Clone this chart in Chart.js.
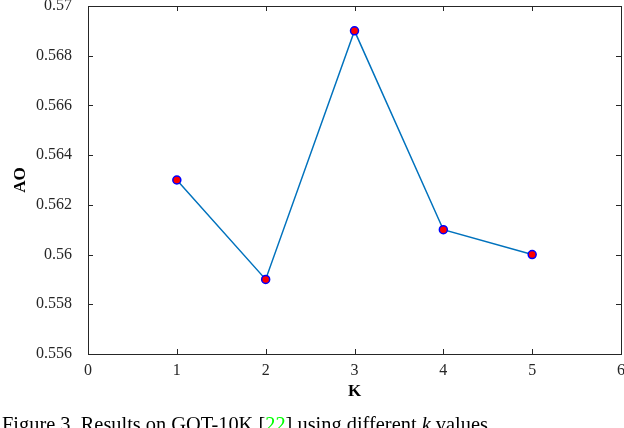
<!DOCTYPE html>
<html><head><meta charset="utf-8">
<script src="https://cdn.jsdelivr.net/npm/chart.js@4"></script>
<style>html,body{margin:0;padding:0;background:#fff;}#wrap{position:relative;width:624px;height:428px;overflow:hidden;}</style>
</head><body><div id="wrap"><canvas id="c" width="624" height="428"></canvas></div>
<script>
const kValues = [1, 2, 3, 4, 5];
const aoValues = [0.563, 0.559, 0.569, 0.561, 0.560];
const xTicks = [0, 1, 2, 3, 4, 5, 6];
const yTicks = [0.556, 0.558, 0.56, 0.562, 0.564, 0.566, 0.568, 0.57];
const xTitle = 'K';
const yTitle = 'AO';
const captionParts = [
  {t: 'Figure 3. Results on GOT-10K [', c: '#000', i: false},
  {t: '22', c: '#00ff00', i: false},
  {t: '] using different ', c: '#000', i: false},
  {t: 'k', c: '#000', i: true},
  {t: ' values.', c: '#000', i: false}
];
const axisColor = '#262626';
const serif = '"Liberation Serif", "Times New Roman", serif';

const boxTicks = {
  id: 'boxTicks',
  afterDraw(chart) {
    const {ctx, chartArea: a, scales: {x, y}} = chart;
    ctx.save();
    ctx.strokeStyle = axisColor;
    ctx.lineWidth = 1;
    ctx.strokeRect(Math.round(a.left) + 0.5, Math.round(a.top) + 0.5, Math.round(a.right - a.left), Math.round(a.bottom - a.top));
    const L = 5;
    ctx.beginPath();
    xTicks.forEach(v => {
      const px = Math.round(x.getPixelForValue(v)) + 0.5;
      ctx.moveTo(px, a.bottom); ctx.lineTo(px, a.bottom - L);
      ctx.moveTo(px, a.top); ctx.lineTo(px, a.top + L);
    });
    yTicks.forEach(v => {
      const py = Math.round(y.getPixelForValue(v)) + 0.5;
      ctx.moveTo(a.left, py); ctx.lineTo(a.left + L, py);
      ctx.moveTo(a.right, py); ctx.lineTo(a.right - L, py);
    });
    ctx.stroke();
    // caption
    let cx = 2;
    const base = 431;
    captionParts.forEach(p => {
      ctx.font = (p.i ? 'italic ' : '') + '20.4px ' + serif;
      ctx.fillStyle = p.c;
      ctx.textBaseline = 'alphabetic';
      ctx.textAlign = 'left';
      ctx.fillText(p.t, cx, base);
      cx += ctx.measureText(p.t).width;
    });
    ctx.restore();
  }
};

new Chart(document.getElementById('c'), {
  type: 'line',
  data: {
    datasets: [{
      data: kValues.map((k, i) => ({x: k, y: aoValues[i]})),
      borderColor: '#0072BD',
      borderWidth: 1.5,
      pointBackgroundColor: '#ff0000',
      pointBorderColor: '#0000ff',
      pointBorderWidth: 1.5,
      pointRadius: 4,
      tension: 0,
      fill: false,
      clip: false
    }]
  },
  options: {
    responsive: false,
    animation: false,
    events: [],
    layout: {autoPadding: false, padding: {left: 0, right: 3, top: 6, bottom: 26}},
    plugins: {legend: {display: false}, tooltip: {enabled: false}},
    scales: {
      x: {
        type: 'linear', min: 0, max: 6,
        afterBuildTicks: s => { s.ticks = xTicks.map(v => ({value: v})); },
        afterFit: s => { s.height = 48; s.paddingLeft = 0; s.paddingRight = 0; },
        grid: {display: false, drawTicks: false},
        border: {display: false},
        ticks: {padding: 7, color: axisColor, font: {family: serif, size: 16}, maxRotation: 0},
        title: {display: true, text: xTitle, color: '#000', font: {family: serif, size: 17, weight: 'bold'}, padding: {top: 6, bottom: 0}}
      },
      y: {
        type: 'linear', min: 0.556, max: 0.57,
        afterBuildTicks: s => { s.ticks = yTicks.map(v => ({value: v})); },
        afterFit: s => { s.width = 88; s.paddingTop = 0; s.paddingBottom = 0; },
        grid: {display: false, drawTicks: false},
        border: {display: false},
        ticks: {padding: 16, color: axisColor, font: {family: serif, size: 16},
          callback: v => String(Number(v.toFixed(3)))},
        title: {display: true, text: yTitle, color: '#000', font: {family: serif, size: 17, weight: 'bold'}, padding: {top: 10, bottom: 0}}
      }
    }
  },
  plugins: [boxTicks]
});
</script></body></html>
